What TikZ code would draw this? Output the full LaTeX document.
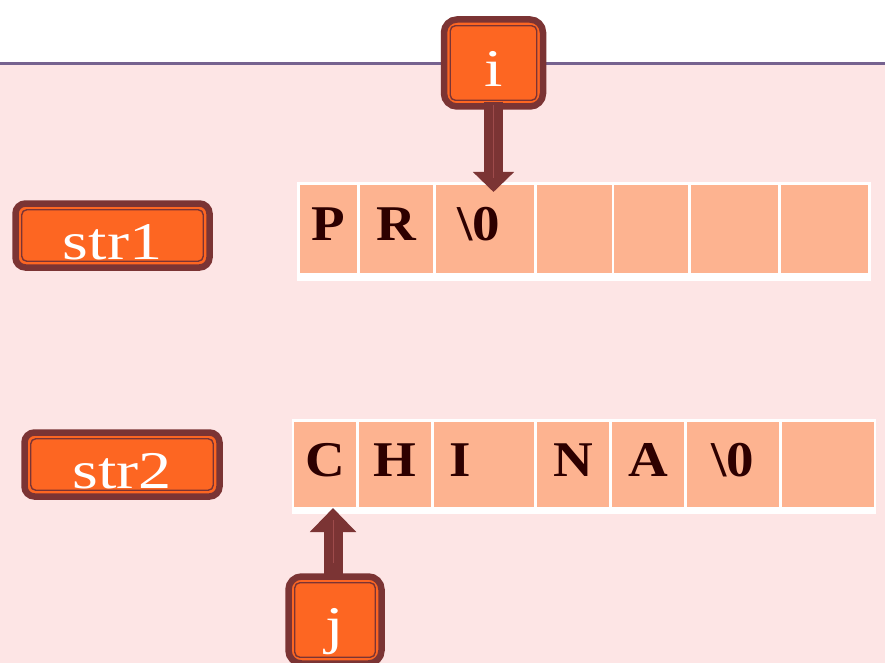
\documentclass[tikz,border=0pt]{standalone}
\usepackage{fontspec}
\setmainfont{Liberation Serif}
\newfontfamily\lblfont[FakeStretch=1.25]{Liberation Serif}
\newfontfamily\cellfont[FakeStretch=1.1]{Liberation Serif}
\usetikzlibrary{arrows.meta,calc}
\definecolor{bgpink}{HTML}{FDE5E5}
\definecolor{peach}{HTML}{FDB390}
\definecolor{org}{HTML}{FD6622}
\definecolor{brn}{HTML}{7B3434}
\definecolor{brnlight}{HTML}{9E4B4B}
\definecolor{ink}{HTML}{2D0000}
\definecolor{rule}{HTML}{76628F}
\tikzset{
  lbl/.style={draw=brn, line width=6.5pt, fill=org, rounded corners=10pt,
    inner sep=0pt, text=white, font=\lblfont\fontsize{53}{53}\selectfont,
    text height=47pt, text depth=0pt},
  inset/.style={draw=brn, line width=1.4pt, rounded corners=5pt},
  backing/.style={fill=white, inner sep=0pt},
  cell/.style={fill=peach, inner sep=0pt, text=ink,
    font=\cellfont\bfseries\fontsize{50}{50}\selectfont,
    text height=22pt, text depth=0pt},
  toprow/.style={cell, minimum height=88pt},
  botrow/.style={cell, minimum height=85pt, text height=24pt},
  ptr/.style={draw=brn, line width=19pt},
  ptrline/.style={draw=brnlight, line width=0.8pt}
}
\begin{document}
\begin{tikzpicture}[x=1pt,y=-1pt]
  \useasboundingbox (0,0) rectangle (885,663);
  % slide background with header rule
  \fill[white] (0,0) rectangle (885,63);
  \fill[bgpink] (0,63) rectangle (885,663);
  \draw[rule, line width=2.5pt] (0,63.5) -- (885,63.5);

  % str1 array
  \node[backing, minimum width=574pt, minimum height=99pt] (rowA) at (584,231.5) {};
  \node[toprow, minimum width=57pt] (a1) at (328.5,229) {P};
  \node[toprow, minimum width=73pt] (a2) at (396.5,229) {R};
  \node[toprow, minimum width=98pt] (a3) at (485,229) {\textbackslash 0\kern12pt};
  \node[toprow, minimum width=75pt] (a4) at (574.5,229) {};
  \node[toprow, minimum width=74pt] (a5) at (651,229) {};
  \node[toprow, minimum width=87pt] (a6) at (734.5,229) {};
  \node[toprow, minimum width=87pt] (a7) at (824.5,229) {};

  % str2 array
  \node[backing, minimum width=584pt, minimum height=95pt] (rowB) at (584,466.5) {};
  \node[botrow, minimum width=62pt] (b1) at (325,464.5) {C};
  \node[botrow, minimum width=72pt] (b2) at (395,464.5) {H};
  \node[botrow, minimum width=100pt] (b3) at (484,464.5) {I\kern48pt};
  \node[botrow, minimum width=72pt] (b4) at (573,464.5) {N};
  \node[botrow, minimum width=72pt] (b5) at (648,464.5) {A};
  \node[botrow, minimum width=92pt] (b6) at (733,464.5) {\textbackslash 0};
  \node[botrow, minimum width=92pt] (b7) at (828,464.5) {};

  % name and index boxes
  \node[lbl, minimum width=194pt, minimum height=64pt] (s1) at (112.5,235.5) {str1};
  \node[lbl, minimum width=195pt, minimum height=64pt] (s2) at (122,464.5) {str2};
  \node[lbl, rounded corners=13pt, minimum width=99pt, minimum height=87pt] (i) at (493.5,63) {i};
  \node[lbl, rounded corners=13pt, minimum width=93pt, minimum height=87pt] (j) at (335,620) {j};
  % thin inner frame of each box (anchors sit on the outer edge of the border)
  \draw[inset] ($(s1.north west)+(9.5,9.5)$) rectangle ($(s1.south east)+(-9.5,-9.5)$);
  \draw[inset] ($(s2.north west)+(9.5,9.5)$) rectangle ($(s2.south east)+(-9.5,-9.5)$);
  \draw[inset] ($(i.north west)+(9.5,9.5)$) rectangle ($(i.south east)+(-9.5,-9.5)$);
  \draw[inset] ($(j.north west)+(9.5,9.5)$) rectangle ($(j.south east)+(-9.5,-9.5)$);

  % index pointers
  \coordinate (itip) at (493.5,192);
  \coordinate (jtip) at (333,508);
  \draw[ptr, -{Triangle[width=40pt,length=20pt]}] ($(i.south)+(0,-8)$) -- (itip);
  \draw[ptr, -{Triangle[width=45pt,length=24pt]}] ($(j.north -| jtip)+(0,3)$) -- (jtip);
  \draw[ptrline] ($(i.south)+(0,-5)$) -- ($(itip)+(0,-14)$);
  \draw[ptrline] ($(j.north -| jtip)+(0,-10)$) -- ($(jtip)+(0,12)$);
\end{tikzpicture}
\end{document}
